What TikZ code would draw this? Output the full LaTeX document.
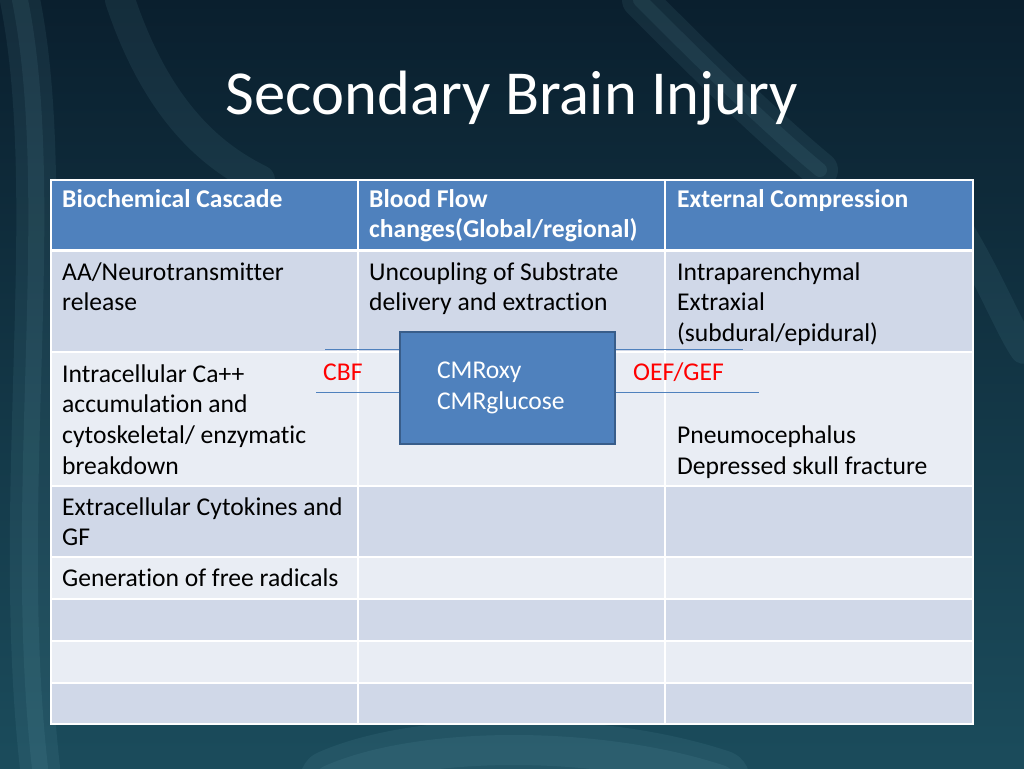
\documentclass[tikz,border=0pt]{standalone}
\usepackage{fontspec}
\setmainfont{Carlito}[Ligatures=NoCommon]
\definecolor{hdrblue}{HTML}{4F81BD}
\definecolor{rowdark}{HTML}{D0D8E8}
\definecolor{rowlight}{HTML}{E9EDF4}
\definecolor{boxedge}{HTML}{385D8A}
\definecolor{bgtop}{HTML}{0A1F2E}
\definecolor{bgbot}{HTML}{1B4C5C}
\definecolor{strand}{HTML}{8FD3DF}

\begin{document}
\begin{tikzpicture}[x=1pt,y=-1pt,
  cell/.style={anchor=north west,inner sep=0pt,text width=290pt,align=flush left,font=\fontsize{25.6}{30.7}\selectfont},
  hcell/.style={cell,text=white,font=\fontsize{25.6}{30.7}\selectfont\bfseries},
  grid/.style={white,line width=1.5pt},
  link/.style={draw=hdrblue,line width=1pt},
  soft/.style={strand,opacity=0.08,line cap=round},
  redtext/.style={anchor=base west,inner sep=0pt,text=red,font=\fontsize{25.6}{30.7}\selectfont}]
  % background
  \shade[top color=bgtop,bottom color=bgbot] (0,0) rectangle (1024,768);
  \useasboundingbox (0,0) rectangle (1024,768);
  \draw[soft,line width=40pt] (20,0) .. controls (60,200) and (10,500) .. (40,768);
  \draw[soft,line width=16pt] (20,0) .. controls (60,200) and (10,500) .. (40,768);
  \draw[soft,line width=30pt] (120,0) .. controls (160,120) and (220,160) .. (260,180);
  \draw[soft,line width=36pt] (640,0) .. controls (700,60) and (760,120) .. (820,170);
  \draw[soft,line width=14pt] (640,0) .. controls (700,60) and (760,120) .. (820,170);
  \draw[soft,line width=28pt] (960,230) .. controls (990,280) and (1010,330) .. (1024,350);
  \draw[soft,line width=60pt] (330,780) .. controls (420,740) and (600,740) .. (720,780);
  \draw[soft,line width=30pt] (330,780) .. controls (420,740) and (600,740) .. (720,780);
  % table rows
  \fill[hdrblue] (51,180) rectangle (973,249);
  \fill[rowdark] (51,249) rectangle (973,352);
  \fill[rowlight] (51,352) rectangle (973,486);
  \fill[rowdark] (51,486) rectangle (973,557);
  \fill[rowlight] (51,557) rectangle (973,599);
  \fill[rowdark] (51,599) rectangle (973,641);
  \fill[rowlight] (51,641) rectangle (973,683);
  \fill[rowdark] (51,683) rectangle (973,724);
  % grid
  \draw[white,line width=3pt] (51,250) -- (973,250);
  \draw[grid] (51,352) -- (973,352);
  \draw[grid] (51,486) -- (973,486);
  \draw[grid] (51,557) -- (973,557);
  \draw[grid] (51,599) -- (973,599);
  \draw[grid] (51,641) -- (973,641);
  \draw[grid] (51,683) -- (973,683);
  \draw[grid] (358,180) -- (358,724);
  \draw[grid] (665,180) -- (665,724);
  \draw[grid] (51,180) rectangle (973,724);
  % title
  \node[anchor=base,inner sep=0pt,text=white,font=\fontsize{62.6}{75}\selectfont] (title) at (512,114) {Secondary Brain Injury};
  % header
  \node[hcell] (h1) at (62,185.5) {\strut Biochemical Cascade};
  \node[hcell] (h2) at (369,185.5) {\strut Blood Flow\\changes(Global/regional)};
  \node[hcell] (h3) at (677,185.5) {\strut External Compression};
  % body
  \node[cell] (aa) at (62,258.5) {\strut AA/Neurotransmitter\\release};
  \node[cell] (uncoup) at (369,258.5) {\strut Uncoupling of Substrate\\delivery and extraction};
  \node[cell] (intra) at (677,258.5) {\strut Intraparenchymal\\Extraxial\\(subdural/epidural)};
  \node[cell] (ca) at (62,360.5) {\strut Intracellular Ca++\\accumulation and\\cytoskeletal/ enzymatic\\breakdown};
  \node[cell] (pneumo) at (677,360.5) {\strut\\\strut\\Pneumocephalus\\Depressed skull fracture};
  \node[cell] (cyto) at (62,493.5) {\strut Extracellular Cytokines and\\GF};
  \node[cell] (radicals) at (62,564.5) {\strut Generation of free radicals};
  % CMR box
  \node[draw=boxedge,fill=hdrblue,line width=2pt,minimum width=215pt,minimum height=112pt,inner sep=0pt,
        text=white,text width=141pt,align=flush left,font=\fontsize{25.6}{30.7}\selectfont] (cmr) at (507.5,388)
        {\strut CMRoxy\\CMRglucose\strut};
  \node[redtext] (cbf) at (323,380) {CBF};
  \node[redtext] (oef) at (633,380) {OEF/GEF};
  \coordinate (cbfT) at (325,349);
  \coordinate (cbfB) at (316,392);
  \coordinate (oefT) at (743,349);
  \coordinate (oefB) at (759,392);
  \draw[link] (cbfT) -- (cbfT -| cmr.west);
  \draw[link] (cbfB) -- (cbfB -| cmr.west);
  \draw[link] (cmr.east |- oefT) -- (oefT);
  \draw[link] (cmr.east |- oefB) -- (oefB);
\end{tikzpicture}
\end{document}
